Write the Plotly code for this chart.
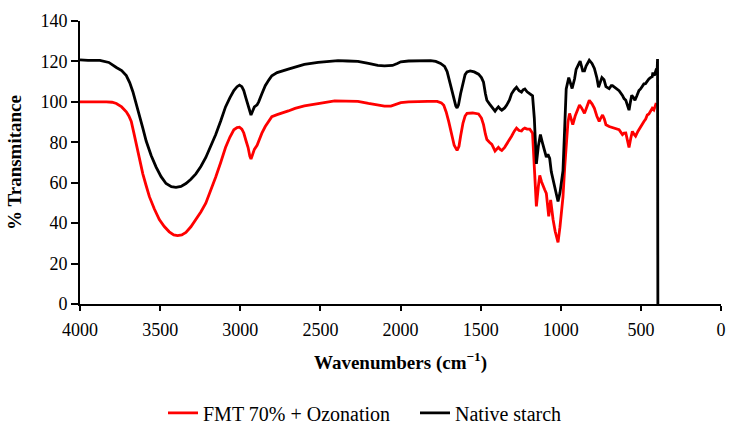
import plotly.graph_objects as go

# ---------------- data ----------------
native_wn = [4000, 3950, 3876, 3820, 3773, 3740, 3711, 3690, 3670, 3650, 3628, 3608, 3587, 3556,
             3525, 3494, 3463, 3430, 3401, 3370, 3339, 3308, 3277, 3246, 3215, 3184, 3153, 3122,
             3092, 3065, 3040, 3020, 3005, 2990, 2978, 2965, 2951, 2940, 2933, 2925, 2912, 2895,
             2885, 2865, 2844, 2820, 2803, 2770, 2741, 2700, 2658, 2600, 2514, 2450, 2390, 2330,
             2266, 2200, 2142, 2100, 2050, 2020, 1998, 1950, 1895, 1850, 1812, 1780, 1750, 1725,
             1709, 1690, 1668, 1655, 1647, 1638, 1625, 1610, 1597, 1585, 1565, 1540, 1513, 1495,
             1482, 1470, 1461, 1445, 1430, 1410, 1400, 1389, 1378, 1368, 1350, 1337, 1320, 1307,
             1290, 1276, 1260, 1245, 1235, 1224, 1210, 1193, 1176, 1165, 1158, 1152, 1140, 1127,
             1115, 1100, 1090, 1080, 1069, 1059, 1048, 1035, 1017, 1005, 993, 986, 975, 966, 950,
             935, 929, 914, 904, 883, 879, 863, 852, 842, 822, 805, 790, 775, 764, 752, 743, 730,
             718, 698, 685, 677, 660, 636, 615, 605, 594, 585, 574, 565, 557, 545, 537, 525, 512,
             502, 481, 471, 460, 450, 440, 429, 425, 416, 404, 398, 396, 394]
native_t = [120.8, 120.5, 120.5, 119.5, 117.0, 115.5, 113.0, 109.5, 105.0, 99.5, 93.5, 87.0, 80.6, 73.5,
            67.7, 63.0, 59.6, 58.0, 57.7, 58.2, 59.6, 61.7, 64.4, 68.0, 72.5, 78.0, 83.8, 90.5,
            97.5, 102.0, 105.6, 107.5, 108.3, 107.5, 105.6, 102.0, 98.4, 94.5, 93.5, 95.0, 97.5, 98.5,
            100.0, 104.0, 108.0, 111.0, 112.9, 114.5, 115.3, 116.2, 117.2, 118.5, 119.5, 120.0, 120.4, 120.2,
            120.0, 119.0, 118.0, 117.8, 118.0, 119.0, 119.8, 120.2, 120.4, 120.4, 120.4, 120.0, 119.0, 117.5,
            115.0, 109.0, 101.5, 98.0, 97.0, 98.5, 104.0, 110.0, 113.5, 114.8, 115.3, 114.8, 113.7, 112.0,
            109.7, 104.0, 100.8, 99.0, 97.5, 95.4, 96.5, 97.5, 96.5, 95.9, 97.0, 98.4, 101.0, 104.0,
            106.0, 107.2, 105.5, 104.8, 106.0, 106.4, 105.0, 104.0, 103.0, 92.0, 80.0, 69.3, 78.0, 83.8,
            80.0, 75.7, 72.7, 74.0, 72.0, 65.4, 61.2, 56.0, 50.7, 55.0, 62.0, 66.0, 88.0, 106.4, 112.0,
            108.0, 106.6, 111.3, 116.1, 119.5, 120.2, 115.3, 115.3, 117.7, 120.6, 119.0, 116.5, 112.0, 107.2, 110.0, 112.0, 111.0,
            107.5, 106.5, 108.0, 108.0, 107.0, 105.5, 103.2, 101.6, 100.8, 98.0, 95.9, 100.0, 103.2, 102.0, 100.8, 103.0, 105.6,
            106.4, 108.9, 109.0, 110.5, 111.3, 112.0, 112.5, 114.5, 113.0, 116.1, 116.5, 121.2, 0.0]

ozone_wn = [4000, 3900, 3835, 3800, 3773, 3740, 3711, 3695, 3680, 3665, 3649, 3628, 3608, 3587,
            3567, 3536, 3505, 3474, 3443, 3415, 3391, 3365, 3339, 3308, 3277, 3246, 3215, 3184,
            3153, 3122, 3092, 3065, 3040, 3020, 3005, 2990, 2978, 2965, 2951, 2940, 2933, 2925,
            2912, 2895, 2885, 2865, 2844, 2820, 2803, 2770, 2741, 2700, 2658, 2600, 2514, 2450,
            2411, 2340, 2266, 2200, 2142, 2100, 2060, 2030, 1998, 1950, 1895, 1830, 1771, 1745,
            1730, 1715, 1699, 1680, 1665, 1647, 1635, 1625, 1610, 1597, 1585, 1550, 1513, 1495,
            1482, 1470, 1461, 1445, 1430, 1410, 1400, 1389, 1378, 1368, 1350, 1337, 1320, 1307,
            1290, 1276, 1260, 1245, 1235, 1224, 1210, 1193, 1176, 1168, 1160, 1152, 1140, 1131,
            1120, 1110, 1100, 1090, 1082, 1075, 1063, 1055, 1048, 1035, 1017, 1005, 993, 986, 975,
            966, 955, 945, 935, 925, 910, 894, 883, 870, 852, 835, 822, 805, 790, 775, 760, 750,
            739, 728, 718, 698, 680, 667, 650, 636, 615, 605, 594, 585, 574, 563, 553, 543, 533,
            518, 502, 481, 470, 460, 450, 440, 429, 419, 409, 404]
ozone_t = [100.0, 100.2, 100.0, 99.8, 99.2, 97.5, 95.1, 93.0, 90.3, 85.0, 79.0, 71.5, 64.4, 58.5,
           53.1, 47.0, 41.8, 38.3, 35.7, 34.2, 33.8, 34.2, 35.4, 38.2, 41.8, 45.5, 49.9, 56.0,
           62.8, 70.0, 77.4, 82.5, 86.2, 87.3, 87.5, 86.5, 84.6, 81.0, 77.4, 73.0, 71.7, 73.5,
           76.5, 78.5, 80.6, 84.5, 87.8, 91.0, 92.7, 93.7, 94.3, 95.5, 96.8, 98.0, 99.1, 100.0,
           100.5, 100.4, 100.2, 99.2, 98.3, 97.9, 97.9, 98.8, 99.6, 100.0, 100.2, 100.2, 100.2, 99.5,
           98.3, 95.0, 90.2, 84.0, 78.5, 76.0, 78.0, 83.0, 89.5, 93.0, 94.3, 94.5, 94.0, 92.0,
           88.7, 84.0, 81.4, 80.0, 79.0, 75.7, 76.5, 77.5, 76.5, 76.0, 77.5, 79.0, 81.0, 83.0,
           85.5, 87.0, 85.8, 85.6, 86.5, 87.0, 86.5, 86.5, 84.5, 72.0, 56.0, 48.3, 58.0, 63.6,
           60.5, 58.0, 56.5, 54.7, 50.0, 43.4, 51.5, 46.0, 41.8, 36.0, 30.5, 38.0, 48.0, 53.0, 68.0,
           79.0, 90.0, 94.3, 91.0, 88.7, 93.0, 96.8, 98.4, 97.0, 94.3, 98.0, 100.8, 99.0, 96.8, 93.0, 90.3, 92.0,
           93.5, 91.5, 88.7, 87.8, 87.3, 87.0, 86.8, 86.2, 83.8, 84.5, 84.6, 81.0, 77.4, 82.0, 85.4, 84.0, 83.0,
           85.5, 87.8, 90.3, 91.5, 93.5, 94.0, 95.1, 96.8, 96.0, 99.2, 99.4]

series_names = ["FMT 70% + Ozonation", "Native starch"]
x_ticks = [4000, 3500, 3000, 2500, 2000, 1500, 1000, 500, 0]
y_ticks = [0, 20, 40, 60, 80, 100, 120, 140]

FONT = "'Palatino Linotype', 'Book Antiqua', Palatino, 'Liberation Serif', serif"

fig = go.Figure()
fig.add_trace(go.Scatter(x=ozone_wn, y=ozone_t, mode="lines", name=series_names[0],
                         line=dict(color="#ff0000", width=2.8)))
fig.add_trace(go.Scatter(x=native_wn, y=native_t, mode="lines", name=series_names[1],
                         line=dict(color="#000000", width=2.8)))

fig.update_layout(
    width=737, height=430,
    margin=dict(l=80, r=11, t=14, b=126),
    paper_bgcolor="white", plot_bgcolor="white",
    font=dict(family=FONT, size=18, color="black"),
    showlegend=True,
    legend=dict(orientation="h", xref="container", yref="container",
                x=163 / 737, xanchor="left", y=0.04, yanchor="middle",
                font=dict(family=FONT, size=20, color="black"),
                entrywidth=207, entrywidthmode="pixels",
                itemwidth=30, tracegroupgap=0),
    xaxis=dict(range=[4000, 0], tickvals=x_ticks, ticktext=[str(v) for v in x_ticks],
               showgrid=False, zeroline=False, showline=True, linecolor="black", linewidth=1.5,
               ticks="outside", ticklen=5, tickwidth=1.5, tickcolor="black",
               ticklabelstandoff=4,
               tickfont=dict(family=FONT, size=18),
               title=dict(text="<b>Wavenumbers (cm<sup>−1</sup>)</b>", standoff=16,
                          font=dict(family=FONT, size=19))),
    yaxis=dict(range=[0, 140], tickvals=y_ticks, ticktext=[str(v) for v in y_ticks],
               showgrid=False, zeroline=False, showline=True, linecolor="black", linewidth=1.8,
               ticks="outside", ticklen=7, tickwidth=1.5, tickcolor="black",
               tickfont=dict(family=FONT, size=18),
               title=dict(text="<b>% Transmitance</b>", standoff=14,
                          font=dict(family=FONT, size=19))),
)

fig.write_html("out.html", config={"displayModeBar": False},
               post_script="document.body.style.margin='0';document.body.style.padding='0';")
